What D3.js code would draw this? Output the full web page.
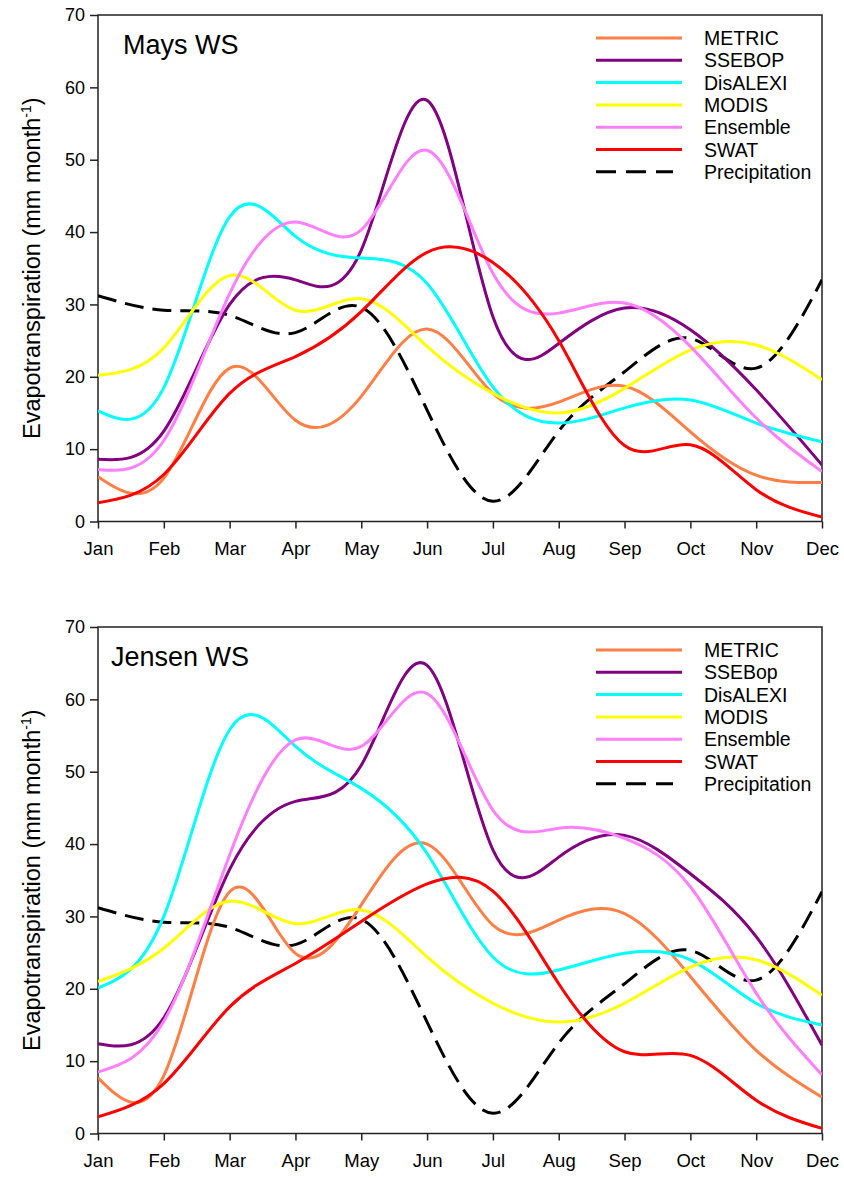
<!DOCTYPE html>
<html>
<head>
<meta charset="utf-8">
<script src="https://cdn.jsdelivr.net/npm/d3@7"></script>
<style>
  html, body { margin: 0; padding: 0; background: #fff; }
  svg { display: block; font-family: "Liberation Sans", Arial, sans-serif; }
</style>
</head>
<body>
<svg id="chart" width="844" height="1177"></svg>
<script>
// Month labels on the x axis
const months = ["Jan","Feb","Mar","Apr","May","Jun","Jul","Aug","Sep","Oct","Nov","Dec"];
const yTicks = [0, 10, 20, 30, 40, 50, 60, 70];

// Monthly precipitation (mm) — same for both watersheds
const precipitation = [31.2, 29.2, 28.5, 26.1, 29.6, 15.4, 2.8, 12.5, 20.7, 25.3, 21.2, 33.4];

// Mays WS monthly ET (mm month-1)
const maysMetric   = [6.2, 6.0, 21.2, 14.0, 17.3, 26.6, 17.7, 16.5, 18.7, 12.4, 6.4, 5.4];
const maysSsebop   = [8.6, 12.5, 30.0, 33.4, 37.5, 58.2, 28.3, 24.6, 29.5, 26.5, 18.2, 7.8];
const maysDisalexi = [15.3, 18.5, 42.1, 39.4, 36.4, 32.9, 18.6, 13.6, 15.7, 16.8, 13.6, 11.0];
const maysModis    = [20.2, 24.0, 34.0, 29.2, 30.8, 24.2, 17.7, 15.0, 18.4, 23.7, 24.4, 19.6];
const maysEnsemble = [7.2, 11.2, 31.5, 41.4, 40.3, 51.3, 34.3, 28.8, 30.2, 24.2, 14.3, 6.9];
const maysSwat     = [2.6, 6.5, 17.7, 22.8, 29.0, 37.2, 35.8, 25.0, 10.5, 10.6, 4.4, 0.6];

// Jensen WS monthly ET (mm month-1)
const jensenMetric   = [7.7, 8.0, 33.4, 24.9, 31.6, 40.0, 28.8, 29.5, 30.4, 21.7, 11.5, 5.0];
const jensenSsebop   = [12.4, 16.0, 36.5, 45.9, 50.9, 64.7, 39.2, 38.2, 41.2, 35.9, 27.2, 12.2];
const jensenDisalexi = [20.1, 30.0, 55.8, 53.5, 47.7, 38.7, 24.4, 22.6, 24.9, 24.0, 18.0, 15.0];
const jensenModis    = [21.0, 25.6, 32.1, 29.0, 30.9, 24.4, 18.0, 15.4, 18.0, 23.0, 24.0, 19.1];
const jensenEnsemble = [8.5, 15.5, 38.5, 54.4, 53.5, 60.8, 44.7, 42.2, 40.8, 34.1, 19.4, 8.1];
const jensenSwat     = [2.3, 6.9, 17.5, 23.5, 29.3, 34.5, 33.5, 20.7, 11.3, 10.8, 4.6, 0.7];

// Series styling
const styles = [
  { name: "METRIC",        color: "#ff7f45", dash: null },
  { name: "SSEBOP",        color: "#800080", dash: null },
  { name: "DisALEXI",      color: "#00ffff", dash: null },
  { name: "MODIS",         color: "#ffff00", dash: null },
  { name: "Ensemble",      color: "#ff80ff", dash: null },
  { name: "SWAT",          color: "#ff0000", dash: null },
  { name: "Precipitation", color: "#000000", dash: "19,9" }
];

const panels = [
  { title: "Mays WS", titleX: 123, top: 15, ssebopLabel: "SSEBOP",
    series: [maysMetric, maysSsebop, maysDisalexi, maysModis, maysEnsemble, maysSwat, precipitation] },
  { title: "Jensen WS", titleX: 111, top: 627, ssebopLabel: "SSEBop",
    series: [jensenMetric, jensenSsebop, jensenDisalexi, jensenModis, jensenEnsemble, jensenSwat, precipitation] }
];

const svg = d3.select("#chart");
const left = 98, right = 822, plotH = 506.5;

const x = d3.scalePoint().domain(months).range([left, right]);

panels.forEach(p => {
  const y = d3.scaleLinear().domain([0, 70]).range([p.top + plotH, p.top]);
  const g = svg.append("g");

  // Frame
  g.append("rect")
    .attr("x", left).attr("y", p.top)
    .attr("width", right - left).attr("height", plotH)
    .attr("fill", "none").attr("stroke", "#222").attr("stroke-width", 1.5);

  // Series lines (smooth spline through monthly values)
  const line = d3.line()
    .x((d, i) => x(months[i]))
    .y(d => y(d))
    .curve(d3.curveNatural);

  const clipId = "clip-" + p.title.replace(/\s/g, "");
  g.append("clipPath").attr("id", clipId)
    .append("rect").attr("x", left).attr("y", p.top)
    .attr("width", right - left).attr("height", plotH);

  const lines = g.append("g").attr("clip-path", `url(#${clipId})`);
  // precipitation underneath, ET series on top in legend order
  const order = [6, 0, 1, 2, 3, 4, 5];
  order.forEach(k => {
    lines.append("path")
      .datum(p.series[k])
      .attr("d", line)
      .attr("fill", "none")
      .attr("stroke", styles[k].color)
      .attr("stroke-width", 3)
      .attr("stroke-dasharray", styles[k].dash)
      .attr("stroke-linejoin", "round");
  });

  // Axes
  const xAxis = d3.axisBottom(x).tickSize(7).tickPadding(13);
  const gx = g.append("g").attr("transform", `translate(0,${p.top + plotH})`).call(xAxis);
  gx.select(".domain").remove();
  gx.selectAll("line").attr("stroke", "#222").attr("stroke-width", 1.5);
  gx.selectAll("text").attr("font-size", 18.5).attr("fill", "#000")
    .attr("font-family", "Liberation Sans, Arial, sans-serif");

  const yAxis = d3.axisLeft(y).tickValues(yTicks).tickSize(8).tickPadding(5);
  const gy = g.append("g").attr("transform", `translate(${left},0)`).call(yAxis);
  gy.select(".domain").remove();
  gy.selectAll("line").attr("stroke", "#222").attr("stroke-width", 1.5);
  gy.selectAll("text").attr("font-size", 18).attr("fill", "#000")
    .attr("font-family", "Liberation Sans, Arial, sans-serif");

  // Panel title
  g.append("text").attr("x", p.titleX).attr("y", p.top + 38.5)
    .attr("font-size", 27).text(p.title);

  // Y axis title
  const yt = g.append("text")
    .attr("transform", `translate(40,${p.top + plotH / 2}) rotate(-90)`)
    .attr("text-anchor", "middle").attr("font-size", 23.5);
  yt.append("tspan").text("Evapotranspiration (mm month");
  yt.append("tspan").attr("dy", -9).attr("font-size", 14).text("-1");
  yt.append("tspan").attr("dy", 9).text(")");

  // Legend
  const lg = g.append("g");
  styles.forEach((s, i) => {
    const ly = p.top + 23 + i * 22.3;
    lg.append("line")
      .attr("x1", 596).attr("x2", s.dash ? 673 : 682)
      .attr("y1", ly).attr("y2", ly)
      .attr("stroke", s.color).attr("stroke-width", 3)
      .attr("stroke-dasharray", s.dash ? "20,10" : null);
    lg.append("text").attr("x", 704).attr("y", ly + 7)
      .attr("font-size", 19.5)
      .text(i === 1 ? p.ssebopLabel : s.name);
  });
});
</script>
</body>
</html>
